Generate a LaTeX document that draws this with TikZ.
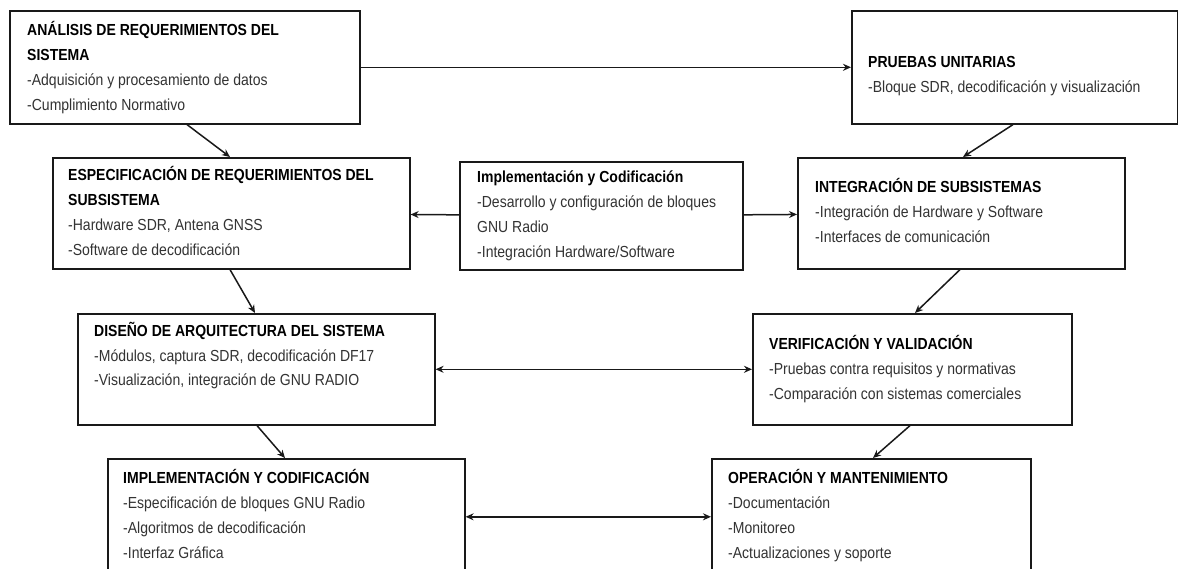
\documentclass[tikz,border=0pt]{standalone}
\usepackage{fontspec}
\setmainfont{Liberation Sans}[FakeStretch=0.875]
\usetikzlibrary{arrows.meta}

% Block outlines, block texts and connectors
\tikzset{
  blk/.style={draw=black!90, line width=1.6pt, inner sep=0pt, anchor=north west},
  txt/.style={anchor=base west, inner sep=0pt, font=\fontsize{16}{25}\selectfont, text=black!80},
  link/.style={line width=1.5pt, draw=black!90, -{Stealth[length=8pt,width=7pt]}},
  dlink/.style={line width=1.5pt, draw=black!90, {Stealth[length=8pt,width=7pt]}-{Stealth[length=8pt,width=7pt]}}
}
\newcommand\blocktext[1]{\parbox[t]{340pt}{\raggedright\leavevmode #1}}
\newcommand\hd[1]{{\bfseries\color{black}#1}}

\begin{document}
\begin{tikzpicture}[x=1pt, y=-1pt]
  \fill[white] (0,0) rectangle (1178,569);
  \useasboundingbox (0,0) rectangle (1178,569);

  % Outlines
  \node[blk, minimum width=350pt, minimum height=113pt] (A) at (9,10) {};
  \node[blk, minimum width=326pt, minimum height=113pt] (P) at (851,10) {};
  \node[blk, minimum width=357pt, minimum height=111pt] (E) at (52,157) {};
  \node[blk, minimum width=283pt, minimum height=108pt] (M) at (459,161) {};
  \node[blk, minimum width=327pt, minimum height=111pt] (I) at (797,157) {};
  \node[blk, minimum width=357pt, minimum height=111pt] (D) at (77,313) {};
  \node[blk, minimum width=319pt, minimum height=111pt] (V) at (752,313) {};
  \node[blk, minimum width=357pt, minimum height=116pt] (B) at (107,458) {};
  \node[blk, minimum width=319pt, minimum height=116pt] (O) at (711,458) {};

  % Texts
  \node[txt] (At) at (27,36) {\blocktext{\hd{ANÁLISIS DE REQUERIMIENTOS DEL}\\\hd{SISTEMA}\\-Adquisición y procesamiento de datos\\-Cumplimiento Normativo}};
  \node[txt] (Pt) at (868,68) {\blocktext{\hd{PRUEBAS UNITARIAS}\\-Bloque SDR, decodificación y visualización}};
  \node[txt] (Et) at (68,181) {\blocktext{\hd{ESPECIFICACIÓN DE REQUERIMIENTOS DEL}\\\hd{SUBSISTEMA}\\-Hardware SDR, Antena GNSS\\-Software de decodificación}};
  \node[txt] (Mt) at (477,183) {\blocktext{\hd{Implementación y Codificación}\\-Desarrollo y configuración de bloques\\GNU Radio\\-Integración Hardware/Software}};
  \node[txt] (It) at (815,193) {\blocktext{\hd{INTEGRACIÓN DE SUBSISTEMAS}\\-Integración de Hardware y Software\\-Interfaces de comunicación}};
  \node[txt] (Dt) at (94,336) {\blocktext{\hd{DISEÑO DE ARQUITECTURA DEL SISTEMA}\\-Módulos, captura SDR, decodificación DF17\\-Visualización, integración de GNU RADIO}};
  \node[txt] (Vt) at (769,349) {\blocktext{\hd{VERIFICACIÓN Y VALIDACIÓN}\\-Pruebas contra requisitos y normativas\\-Comparación con sistemas comerciales}};
  \node[txt] (Bt) at (123,483) {\blocktext{\hd{IMPLEMENTACIÓN Y CODIFICACIÓN}\\-Especificación de bloques GNU Radio\\-Algoritmos de decodificación\\-Interfaz Gráfica}};
  \node[txt] (Ot) at (728,483) {\blocktext{\hd{OPERACIÓN Y MANTENIMIENTO}\\-Documentación\\-Monitoreo\\-Actualizaciones y soporte}};

  % Connectors
  \draw[link] (A) -- (P);
  \draw[link] ([xshift=178pt]A.south west) -- ([xshift=178pt]E.north west);
  \draw[link] (M) -- (E);
  \draw[link] (M) -- (I);
  \draw[link] ([xshift=162pt]P.south west) -- ([xshift=166pt]I.north west);
  \draw[link] ([xshift=178pt]E.south west) -- ([xshift=178pt]D.north west);
  \draw[link] ([xshift=163pt]I.south west) -- ([xshift=163pt]V.north west);
  \draw[dlink] (D) -- (V);
  \draw[link] ([xshift=180pt]D.south west) -- ([xshift=178pt]B.north west);
  \draw[link] ([xshift=158pt]V.south west) -- ([xshift=162pt]O.north west);
  \draw[dlink] (B) -- (O);
\end{tikzpicture}
\end{document}
